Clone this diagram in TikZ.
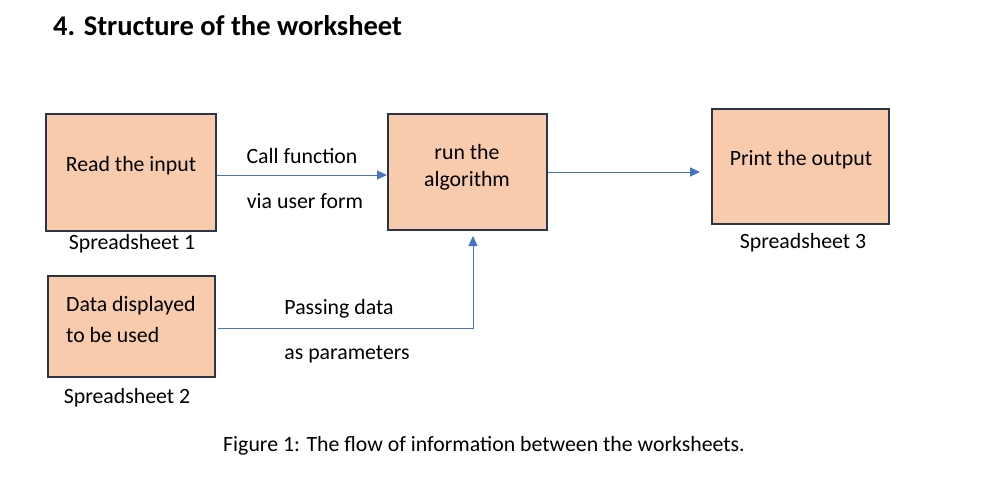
\documentclass[tikz,border=0pt]{standalone}
\usepackage{fontspec}
\setmainfont{Carlito}
\usetikzlibrary{arrows.meta}
\definecolor{peach}{HTML}{F8CBAD}
\definecolor{edge}{HTML}{2B3547}
\definecolor{arrowblue}{HTML}{4472C4}
\begin{document}
\begin{tikzpicture}[x=1pt,y=-1pt,
  sheet/.style={draw=edge,line width=2pt,fill=peach,inner sep=0pt},
  txt/.style={font=\fontsize{21.8}{26}\selectfont,inner sep=0pt,text=black},
  flow/.style={draw=arrowblue,line width=1pt,-{Triangle[length=10pt,width=9pt]}}]
\useasboundingbox (0,0) rectangle (997,483);
\node[font=\bfseries\fontsize{28.5}{32}\selectfont,anchor=west,inner sep=0pt] (title) at (53,26) {4. Structure of the worksheet};
% boxes
\node[sheet,minimum width=170pt,minimum height=117pt] (b1) at (131,172.5) {};
\node[sheet,minimum width=159pt,minimum height=116pt] (b2) at (467.5,172) {};
\node[sheet,minimum width=177pt,minimum height=115pt] (b3) at (800.5,166.5) {};
\node[sheet,minimum width=167pt,minimum height=101pt] (b4) at (131.5,326.5) {};
% box texts
\node[txt] (t1) at (131,166) {Read the input};
\node[txt] (t2a) at (467,152) {run the};
\node[txt] (t2b) at (467,181) {algorithm};
\node[txt] (t3) at (801,160) {Print the output};
\node[txt,anchor=west] (t4a) at (66,306) {Data displayed};
\node[txt,anchor=west] (t4b) at (66,335) {to be used};
% captions under boxes
\node[txt] (s1) at (132,244) {Spreadsheet 1};
\node[txt] (s3) at (803,243) {Spreadsheet 3};
\node[txt] (s2) at (127,398) {Spreadsheet 2};
% arrows
\coordinate (a1s) at (b1.east |- 0,175);
\coordinate (a1e) at (b2.west |- 0,175);
\draw[flow] (a1s) -- (a1e);
\coordinate (a2s) at (b2.east |- 0,172);
\coordinate (a2e) at (700,172);
\draw[flow] (a2s) -- (a2e);
\coordinate (a3s) at (218,328);
\coordinate (a3c) at (473,328);
\coordinate (a3e) at (473,236);
\draw[flow] (a3s) -- (a3c) -- (a3e);
% arrow labels
\node[txt] (l1) at (302,156) {Call function};
\node[txt] (l2) at (305,201) {via user form};
\node[txt] (l3) at (339,309) {Passing data};
\node[txt] (l4) at (347,354) {as parameters};
\node[txt] (cap) at (484,446) {Figure 1: The flow of information between the worksheets.};
\end{tikzpicture}
\end{document}
